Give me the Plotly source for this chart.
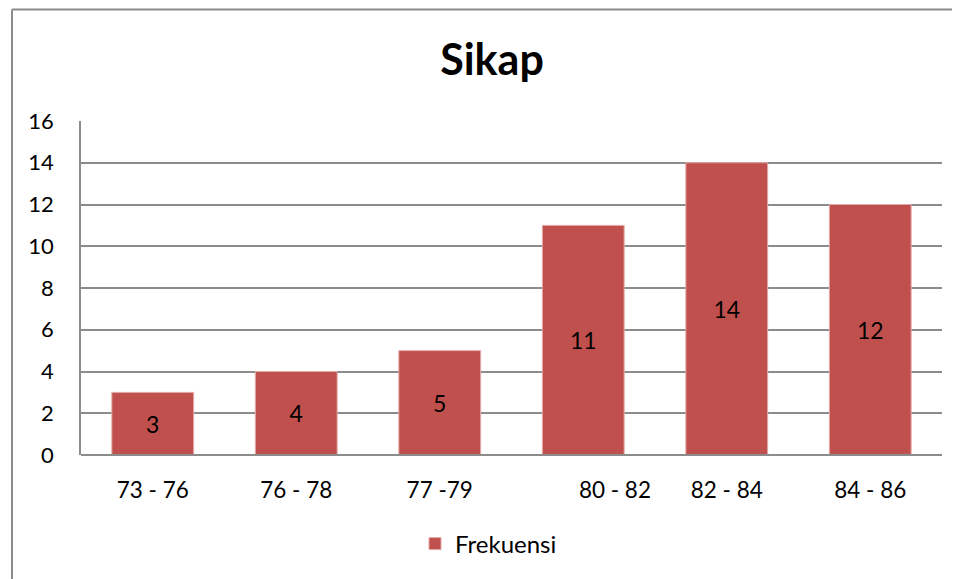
import plotly.graph_objects as go

categories = ["73 - 76", "76 - 78", "77 -79", "\u00a0" * 11 + "80 - 82", "82 - 84", "84 - 86"]
frekuensi = [3, 4, 5, 11, 14, 12]
y_ticks = [0, 2, 4, 6, 8, 10, 12, 14, 16]

FONT = "Lato, Open Sans, sans-serif"
OFF = 8  # page body margin offset
W, H = 960, 579
# target screen positions of plot area: x 81..942, y 121..455
L = 81 - OFF
T = 121 - OFF
R = W - (942 - OFF)
B = H - (455 - OFF)
pw, ph = W - L - R, H - T - B

def px_x(p):
    return (p - OFF - L) / pw

def px_y(p):
    return (H - B - (p - OFF)) / ph

fig = go.Figure()
fig.add_trace(go.Bar(
    x=categories, y=frekuensi, name="Frekuensi",
    marker=dict(color="#C0504D", line=dict(color="#E3A9A7", width=1)),
    text=[str(v) for v in frekuensi], textposition="inside",
    insidetextanchor="middle", textangle=0, constraintext="none",
    textfont=dict(family=FONT, size=23, color="#000000"),
    showlegend=True,
))

fig.update_layout(
    width=W, height=H,
    margin=dict(l=L, r=R, t=T, b=B),
    paper_bgcolor="white", plot_bgcolor="white",
    bargap=0.43,
    title=dict(text="<b>Sikap</b>", font=dict(family=FONT, size=43, color="#000000"),
               xref="container", yref="container", x=(492 - OFF) / W,
               y=1 - (60 - OFF) / H, xanchor="center", yanchor="middle"),
    xaxis=dict(showgrid=False, showline=False, ticks="",
               tickfont=dict(family=FONT, size=22.5, color="#000000"),
               ticklabelstandoff=19),
    yaxis=dict(range=[0, 16], tickvals=y_ticks, showgrid=True,
               gridcolor="#8C8C8C", gridwidth=1.5, zeroline=False,
               showline=True, linecolor="#8C8C8C", linewidth=1.5,
               ticks="", tickfont=dict(family=FONT, size=22, color="#000000"),
               ticklabelstandoff=21),
    legend=dict(orientation="h", x=px_x(457 - 42), y=px_y(544), xanchor="left",
                yanchor="middle", font=dict(family=FONT, size=24, color="#000000"),
                itemwidth=30),
    shapes=[
        dict(type="line", xref="paper", yref="paper", x0=0, x1=1, y0=0, y1=0,
             line=dict(color="#8C8C8C", width=2)),
        dict(type="line", xref="paper", yref="paper", x0=px_x(12), x1=px_x(975),
             y0=px_y(9.5), y1=px_y(9.5), line=dict(color="#8C8C8C", width=2)),
        dict(type="line", xref="paper", yref="paper", x0=px_x(12), x1=px_x(12),
             y0=px_y(9.5), y1=px_y(600), line=dict(color="#8C8C8C", width=2)),
    ],
)

fig.write_html("out.html")
